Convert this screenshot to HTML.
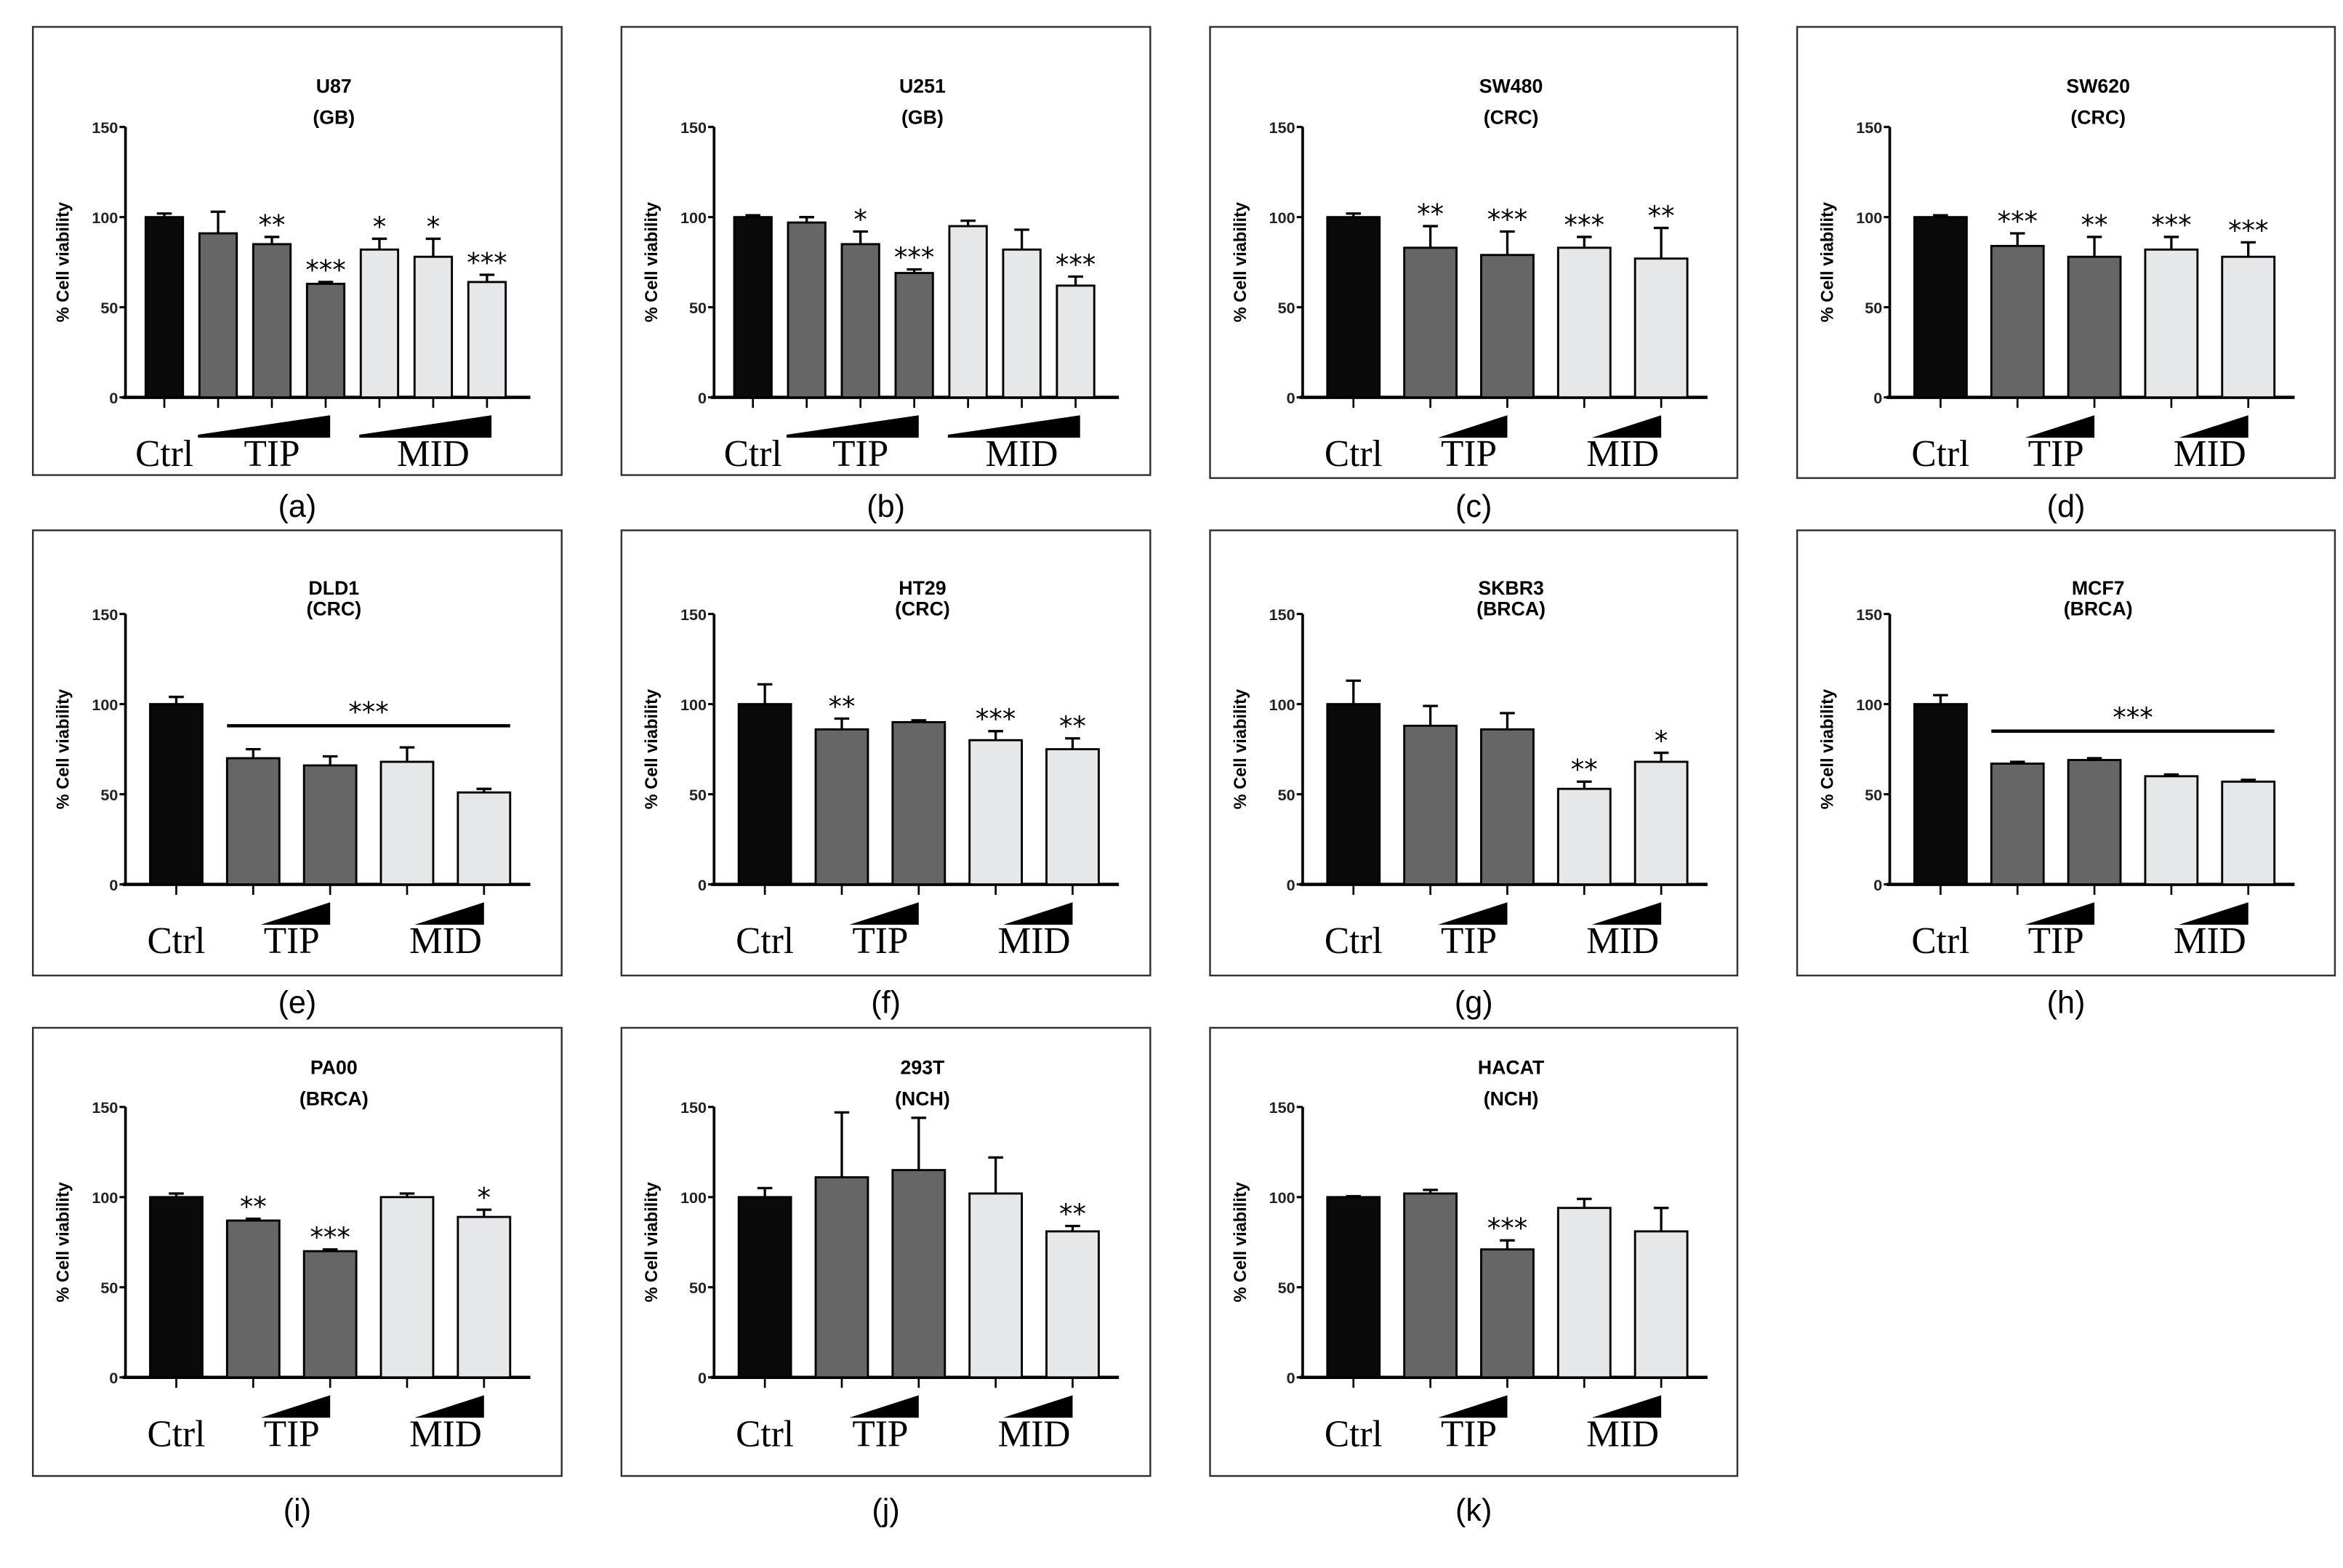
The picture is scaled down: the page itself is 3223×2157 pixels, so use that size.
<!DOCTYPE html>
<html><head><meta charset="utf-8"><style>
html,body{margin:0;padding:0;background:#fff;}
svg{display:block;}
</style></head><body>
<svg id="fig" width="3223" height="2157" viewBox="0 0 1568.4 1049.6" preserveAspectRatio="none" xmlns="http://www.w3.org/2000/svg"></svg>
<script>
const NS='http://www.w3.org/2000/svg';
const svg=document.getElementById('fig');
// ---- data ----
const panelIds=['a','b','c','d','e','f','g','h','i','j','k'];
const titles=['U87','U251','SW480','SW620','DLD1','HT29','SKBR3','MCF7','PA00','293T','HACAT'];
const subtitles=['(GB)','(GB)','(CRC)','(CRC)','(CRC)','(CRC)','(BRCA)','(BRCA)','(BRCA)','(NCH)','(NCH)'];
const valuesA=[100,91,85,63,82,78,64];
const valuesB=[100,97,85,69,95,82,62];
const valuesC=[100,83,79,83,77];
const valuesD=[100,84,78,82,78];
const valuesE=[100,70,66,68,51];
const valuesF=[100,86,90,80,75];
const valuesG=[100,88,86,53,68];
const valuesH=[100,67,69,60,57];
const valuesI=[100,87,70,100,89];
const valuesJ=[100,111,115,102,81];
const valuesK=[100,102,71,94,81];
const errorsA=[2,12,4,1,6,10,4];
const errorsB=[1,3,7,2,3,11,5];
const errorsC=[2,12,13,6,17];
const errorsD=[1,7,11,7,8];
const errorsE=[4,5,5,8,2];
const errorsF=[11,6,1,5,6];
const errorsG=[13,11,9,4,5];
const errorsH=[5,1,1,1,1];
const errorsI=[2,1,1,2,4];
const errorsJ=[5,36,29,20,3];
const errorsK=[0.5,2,5,5,13];
const starsA=['','','**','***','*','*','***'];
const starsB=['','','*','***','','','***'];
const starsC=['','**','***','***','**'];
const starsD=['','***','**','***','***'];
const starsE=['','','','',''];
const starsF=['','**','','***','**'];
const starsG=['','','','**','*'];
const starsH=['','','','',''];
const starsI=['','**','***','','*'];
const starsJ=['','','','','**'];
const starsK=['','','***','',''];
const bracketLevels={e:88,h:85};
const yTicks=[0,50,100,150];
const allValues=[valuesA,valuesB,valuesC,valuesD,valuesE,valuesF,valuesG,valuesH,valuesI,valuesJ,valuesK];
const allErrors=[errorsA,errorsB,errorsC,errorsD,errorsE,errorsF,errorsG,errorsH,errorsI,errorsJ,errorsK];
const allStars=[starsA,starsB,starsC,starsD,starsE,starsF,starsG,starsH,starsI,starsJ,starsK];
// ---- layout ----
const boxes=[[22,18,354,300],[416,18,354,300],[810,18,353,302],[1203,18,360,302],
 [22,355,354,298],[416,355,354,298],[810,355,353,298],[1203,355,360,298],
 [22,688,354,300],[416,688,354,300],[810,688,353,300]];
const rowTop=[67,56,53], titleY=[[39,60],[38,52],[26,47]], labelY=[338,670,1010];
function mk(tag,attrs,parent){const e=document.createElementNS(NS,tag);for(const k in attrs)e.setAttribute(k,attrs[k]);(parent||svg).appendChild(e);return e;}
panelIds.forEach((id,p)=>{
 const [L,T,W,H]=boxes[p]; const row=p<4?0:(p<8?1:2);
 const g=mk('g',{});
 
 
 const r=mk('rect',{x:L,y:T,width:W,height:H,fill:'none',stroke:'#333','stroke-width':1.2},g);
 
 
 const ax=L+62, axEnd=L+333, y150=T+rowTop[row], y0=y150+181;
 const ys=v=>y0-(v/150)*181;
 const cx=(ax+axEnd)/2+4;
 const t1=mk('text',{x:cx,y:T+titleY[row][0]+5,'font-family':'Liberation Sans, sans-serif','font-weight':'bold','font-size':13,'text-anchor':'middle'},g);t1.textContent=titles[p];
 
 
 const t2=mk('text',{x:cx,y:T+titleY[row][1]+5,'font-family':'Liberation Sans, sans-serif','font-weight':'bold','font-size':13,'text-anchor':'middle'},g);t2.textContent=subtitles[p];
 
 
 const ya=mk('line',{x1:ax,y1:y150,x2:ax,y2:y0,stroke:'#000','stroke-width':1.8},g);
 
 
 const xa=mk('line',{x1:ax-2,y1:y0,x2:axEnd,y2:y0,stroke:'#000','stroke-width':2.2},g);
 
 
 yTicks.forEach(tv=>{
  mk('line',{x1:ax-4,y1:ys(tv),x2:ax,y2:ys(tv),stroke:'#000','stroke-width':1.5},g);
  const tl=mk('text',{x:ax-5,y:ys(tv)+4,'font-family':'Liberation Sans, sans-serif','font-weight':'bold','font-size':10.5,'text-anchor':'end','fill':'#222'},g);tl.textContent=tv;
  
  
 });
 const yt=mk('text',{x:0,y:0,transform:`translate(${L+24},${(y150+y0)/2}) rotate(-90)`,'font-family':'Liberation Sans, sans-serif','font-weight':'bold','font-size':11.5,'text-anchor':'middle'},g);yt.textContent='% Cell viability';
 
 
 const vals=allValues[p], errs=allErrors[p], st=allStars[p], n=vals.length;
 const seven=n===7;
 const bw=seven?25:35, step=seven?36:51.5, first=seven?ax+26:ax+34;
 const colors=seven?['#0a0a0a','#666','#666','#666','#e6e7e8','#e6e7e8','#e6e7e8']:['#0a0a0a','#666','#666','#e6e7e8','#e6e7e8'];
 const centers=vals.map((v,i)=>first+i*step);
 vals.forEach((v,i)=>{
  const c=centers[i];
  const e=mk('line',{x1:c,y1:ys(v+errs[i]),x2:c,y2:ys(v),stroke:'#000','stroke-width':1.6},g);
  
  
  mk('line',{x1:c-5,y1:ys(v+errs[i]),x2:c+5,y2:ys(v+errs[i]),stroke:'#000','stroke-width':1.6},g);
  const b=mk('rect',{x:c-bw/2,y:ys(v),width:bw,height:y0-ys(v),fill:colors[i],stroke:'#000','stroke-width':1.4},g);
  
  
  mk('line',{x1:c,y1:y0,x2:c,y2:y0+7,stroke:'#000','stroke-width':1.3},g);
  if(st[i]){const s=mk('text',{x:c,y:ys(v+errs[i])-2,'font-family':'DejaVu Sans, sans-serif','font-size':18,'text-anchor':'middle'},g);s.textContent=st[i];
   
   }
 });
 if(bracketLevels[id]!==undefined){
  const by=ys(bracketLevels[id]);
  const bl=mk('line',{x1:centers[1]-bw/2,y1:by,x2:centers[4]+bw/2,y2:by,stroke:'#000','stroke-width':2.2},g);
  
  
  const s=mk('text',{x:(centers[1]+centers[4])/2,y:by-3,'font-family':'DejaVu Sans, sans-serif','font-size':18,'text-anchor':'middle'},g);s.textContent='***';
  
  
 }
 const groups=seven?[[1,3],[4,6]]:[[1,2],[3,4]];
 const rTop=y0+12, rBot=y0+27;
 groups.forEach((gp,k)=>{
  let x1,x2;
  if(seven){x1=centers[gp[0]]-bw/2-1;x2=centers[gp[1]]+3;}else{x1=centers[gp[0]]+5;x2=centers[gp[1]];}
  const pts=seven?`${x1},${rBot} ${x1},${rBot-2} ${x2},${rTop} ${x2},${rBot}`:`${x1},${rBot} ${x2},${rTop} ${x2},${rBot}`;
  const tri=mk('polygon',{points:pts,fill:'#000'},g);
  
  
 });
 const lblY=y0+46;
 const grpX=[centers[0], seven?(centers[1]+centers[3])/2:(centers[1]+centers[2])/2, seven?(centers[4]+centers[6])/2:(centers[3]+centers[4])/2];
 ['Ctrl','TIP','MID'].forEach((tx,k)=>{
  const xl=mk('text',{x:grpX[k],y:lblY,'font-family':'Liberation Serif, serif','font-size':25,'text-anchor':'middle'},g);xl.textContent=tx;
  
  
 });
 const pl=mk('text',{x:L+W/2,y:labelY[row]+8,'font-family':'Liberation Sans, sans-serif','font-size':21,'text-anchor':'middle'},g);pl.textContent='('+id+')';
 
 
});
</script>
</body></html>
